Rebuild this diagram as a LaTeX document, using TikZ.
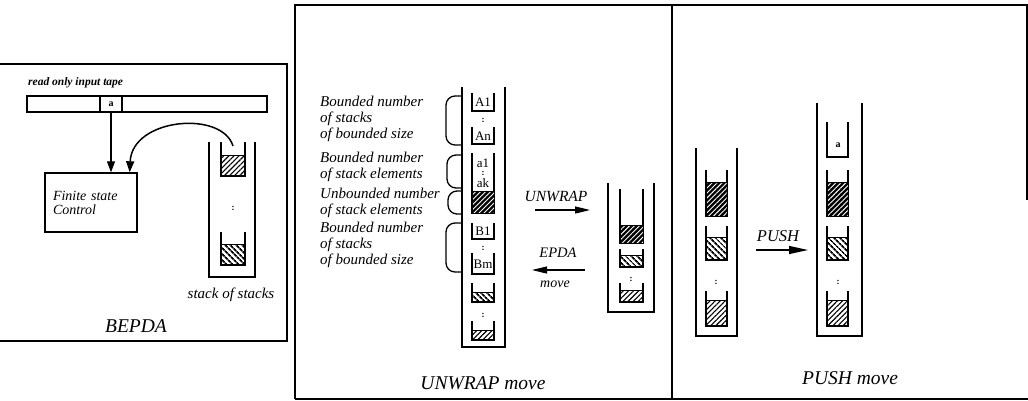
\documentclass[tikz,border=0pt]{standalone}
\usepackage{fontspec}
\setmainfont{Liberation Serif}
\usetikzlibrary{arrows.meta,patterns.meta}
\newcommand\hatchD[4]{\fill[black] (#1,#2) rectangle (#3,#4);
  \fill[pattern={Lines[angle=45,distance=3.5pt,line width=0.9pt]},pattern color=white] (#1,#2) rectangle (#3,#4);
  \draw[line width=1pt] (#1,#2) rectangle (#3,#4);}
\newcommand\hatchL[4]{\fill[pattern={Lines[angle=45,distance=3.6pt,line width=1.1pt]},pattern color=black] (#1,#2) rectangle (#3,#4);
  \draw[line width=1pt] (#1,#2) rectangle (#3,#4);}
\newcommand\hatchB[4]{\fill[pattern={Lines[angle=-45,distance=4pt,line width=1.9pt]},pattern color=black] (#1,#2) rectangle (#3,#4);
  \draw[line width=1pt] (#1,#2) rectangle (#3,#4);}
\newcommand\stackcup[4]{\draw[cupline] (#1,#2) -- (#1,#4) -- (#3,#4) -- (#3,#2);}
\begin{document}
\begin{tikzpicture}[x=1pt,y=-1pt,
  frame/.style={line width=1.8pt},
  cupline/.style={line width=1.4pt},
  lbl/.style={font=\itshape\fontsize{15}{16}\selectfont, align=left, inner sep=0pt, anchor=west},
  title/.style={font=\itshape\fontsize{19.5}{20}\selectfont, inner sep=0pt},
  elem/.style={font=\fontsize{13}{13}\selectfont, inner sep=0pt},
  dots/.style={font=\bfseries\fontsize{9}{9}\selectfont, inner sep=0pt},
  arr/.style={line width=1.2pt, -{Triangle[length=15pt,width=7pt]}},
  brace/.style={line width=1.3pt, rounded corners=9pt}]
\useasboundingbox (0,0) rectangle (1028,400);

% ---------------- BEPDA panel ----------------
\draw[frame] (0,64) -- (287,64) -- (287,341) -- (0,341);
\node[font=\bfseries\itshape\fontsize{11.5}{12}\selectfont, inner sep=0pt, anchor=west] (tapelbl) at (28,83) {read only input tape};
\draw[cupline] (27,96) rectangle (267,112);
\node[draw, line width=1.4pt, minimum width=22pt, minimum height=16pt, inner sep=0pt, font=\bfseries\fontsize{10}{10}\selectfont] (cell) at (111,104) {a};
\node[draw, line width=1.4pt, minimum width=92pt, minimum height=59pt, text width=76pt, align=left, inner xsep=0pt,
      font=\itshape\fontsize{14}{14}\selectfont] (fsc) at (91,202.5) {Finite state\\Control};
\draw[line width=1.2pt, -{Triangle[length=11pt,width=8pt]}] (cell.south) -- (cell.south |- fsc.north);
% stack of stacks
\stackcup{209}{142}{255}{277}
\stackcup{221}{142}{245}{176}
\hatchL{221}{155}{245}{176}
\node[dots] (sdots) at (233,208) {:};
\stackcup{221}{232}{245}{265}
\hatchB{221}{244}{245}{265}
\coordinate (stop) at (233,146);
\coordinate (fscin) at ([xshift=-8pt]fsc.north east);
\draw[line width=1.5pt, -{Triangle[length=11pt,width=8pt]}] (stop) .. controls (222,110) and (132,118) .. (fscin);
\node[font=\itshape\fontsize{15}{16}\selectfont, inner sep=0pt] (sos) at (231,295) {stack of stacks};
\node[title] (bepda) at (136,326) {BEPDA};

% ---------------- frames of right panels ----------------
\draw[frame] (295,399) -- (295,5) -- (1027,5) -- (1027,200);
\draw[frame] (672,5) -- (672,399);
\draw[line width=1.4pt] (295,399) -- (1028,399);

% ---------------- UNWRAP panel ----------------
\stackcup{462}{87}{505}{347}
\stackcup{472}{93}{494}{111}   \node[elem] (A1) at (483,102) {A1};
\node[dots] at (483,120) {:};
\stackcup{472}{127}{494}{144}  \node[elem] (An) at (483,136) {An};
\stackcup{472}{153}{494}{213}
\node[elem] (a1) at (483,163) {a1};
\node[dots] at (483,173) {:};
\node[elem] (ak) at (483,183) {ak};
\hatchD{472}{191}{494}{213}
\stackcup{472}{223}{494}{239}  \node[elem] (B1) at (483,231) {B1};
\node[dots] at (483,248) {:};
\stackcup{472}{253}{494}{274}  \node[elem] (Bm) at (483,264) {Bm};
\stackcup{472}{283}{494}{302}
\hatchB{472}{292}{494}{302}
\node[dots] at (483,315) {:};
\stackcup{472}{321}{494}{340}
\hatchL{472}{330}{494}{340}
% braces
\draw[brace] (462,96) -- (446,96) -- (446,145) -- (462,145);
\draw[brace] (462,155) -- (447,155) -- (447,188) -- (462,188);
\draw[brace] (462,191) -- (448,191) -- (448,214) -- (462,214);
\draw[brace] (462,223) -- (446,223) -- (446,272) -- (462,272);
\node[lbl] (l1) at (320,119) {Bounded number\\of stacks\\of bounded size};
\node[lbl] (l2) at (320,167) {Bounded number\\of stack elements};
\node[lbl] (l3) at (320,203) {Unbounded number\\of stack elements};
\node[lbl] (l4) at (320,245) {Bounded number\\of stacks\\of bounded size};
% arrows
\coordinate (uwa) at (535,210); \coordinate (uwb) at (590,210);
\draw[arr] (uwa) -- (uwb);
\node[font=\itshape\fontsize{15.5}{16}\selectfont, inner sep=0pt] (uwl) at (556,196) {UNWRAP};
\coordinate (epa) at (585,270); \coordinate (epb) at (532,270);
\draw[arr] (epa) -- (epb);
\node[font=\itshape\fontsize{14.5}{15}\selectfont, inner sep=0pt] (epl) at (558,253) {EPDA};
\node[font=\itshape\fontsize{14}{15}\selectfont, inner sep=0pt] (mvl) at (555,284) {move};
% small stack
\stackcup{608}{183}{654}{312}
\stackcup{620}{189}{643}{243}
\hatchD{620}{225}{643}{243}
\stackcup{620}{249}{643}{267}
\hatchB{620}{255}{643}{267}
\node[dots] at (631,279) {:};
\stackcup{620}{283}{643}{302}
\hatchL{620}{290}{643}{302}
\node[title] (uwt) at (483,383) {UNWRAP move};

% ---------------- PUSH panel ----------------
\stackcup{696}{148}{737}{336}
\stackcup{706}{170}{727}{216}
\hatchD{706}{182}{727}{216}
\stackcup{706}{226}{727}{260}
\hatchB{706}{237}{727}{260}
\node[dots] at (716,282) {:};
\stackcup{706}{291}{727}{326}
\hatchL{706}{300}{727}{326}
\coordinate (pua) at (756,250); \coordinate (pub) at (808,250);
\draw[line width=1.2pt, -{Triangle[length=19pt,width=8pt]}] (pua) -- (pub);
\node[font=\itshape\fontsize{16.5}{17}\selectfont, inner sep=0pt] (pul) at (778,236) {PUSH};
\stackcup{817}{103}{862}{336}
\stackcup{827}{122}{848}{157}
\node[font=\bfseries\fontsize{10}{10}\selectfont, inner sep=0pt] (pa) at (838,145) {a};
\stackcup{827}{170}{848}{216}
\hatchD{827}{182}{848}{216}
\stackcup{827}{226}{848}{260}
\hatchB{827}{237}{848}{260}
\node[dots] at (838,282) {:};
\stackcup{827}{291}{848}{326}
\hatchL{827}{300}{848}{326}
\node[title] (put) at (850,378) {PUSH move};
\end{tikzpicture}
\end{document}
